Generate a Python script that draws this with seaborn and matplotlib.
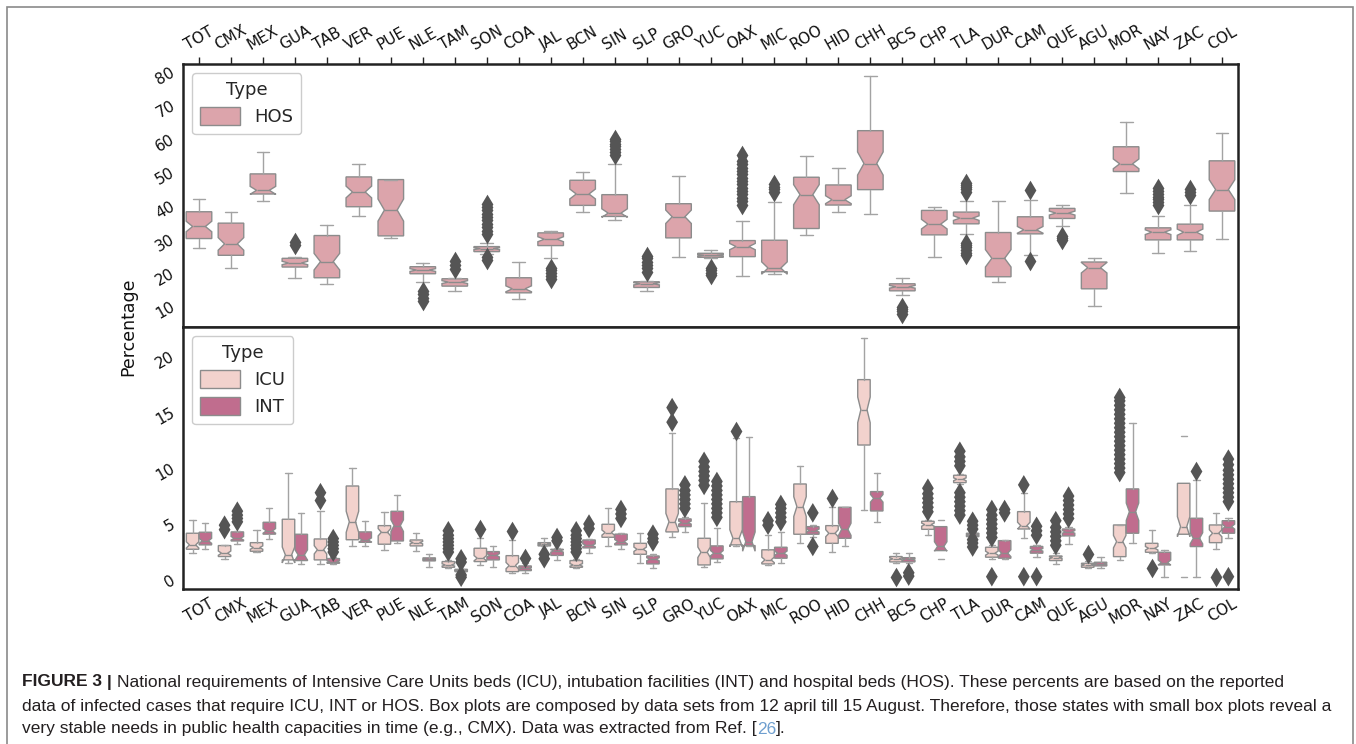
import numpy as np
import pandas as pd
import seaborn as sns
import matplotlib.pyplot as plt
from matplotlib import font_manager
from matplotlib.patches import Patch, Rectangle

states = ['TOT', 'CMX', 'MEX', 'GUA', 'TAB', 'VER', 'PUE', 'NLE', 'TAM', 'SON', 'COA',
          'JAL', 'BCN', 'SIN', 'SLP', 'GRO', 'YUC', 'OAX', 'MIC', 'ROO', 'HID', 'CHH',
          'BCS', 'CHP', 'TLA', 'DUR', 'CAM', 'QUE', 'AGU', 'MOR', 'NAY', 'ZAC', 'COL']

########## HOS (top panel) ##########
hos_lo = [27.0, 21.2, 41.1, 18.2, 16.2, 36.5, 30.1, 17.0, 14.3, 25.3, 11.8,
          24.0, 37.7, 35.5, 14.2, 24.5, 24.0, 18.7, 19.3, 31.0, 37.7, 37.2,
          13.0, 24.4, 31.2, 17.0, 25.0, 33.7, 9.7, 43.5, 25.5, 26.3, 29.9]
hos_q1 = [29.9, 24.9, 43.2, 21.4, 18.2, 39.4, 30.7, 19.4, 15.7, 26.0, 13.7,
          27.8, 39.8, 36.5, 15.3, 30.1, 24.3, 24.5, 20.0, 32.9, 39.9, 44.5,
          14.3, 31.0, 34.3, 18.5, 31.3, 35.9, 14.9, 49.9, 29.5, 29.5, 38.1]
hos_med = [33.5, 28.3, 44.3, 22.6, 23.0, 43.8, 38.4, 20.5, 16.9, 26.9, 14.9,
           29.7, 43.2, 37.5, 16.4, 36.4, 24.9, 27.5, 21.1, 43.0, 41.5, 52.3,
           15.5, 34.2, 36.0, 24.0, 32.5, 37.5, 21.2, 52.2, 31.8, 31.8, 44.5]
hos_q3 = [37.9, 34.5, 49.2, 24.0, 30.8, 48.3, 47.5, 21.5, 17.9, 27.5, 18.2,
          31.6, 47.3, 43.0, 17.0, 40.3, 25.5, 29.3, 29.4, 48.2, 45.9, 62.1,
          16.4, 38.3, 37.8, 31.7, 36.4, 38.9, 22.9, 57.3, 33.1, 34.2, 53.1]
hos_hi = [41.8, 37.8, 55.6, 24.3, 33.8, 52.3, 47.5, 22.5, 18.0, 28.5, 22.8,
          32.3, 49.8, 52.2, 17.2, 48.5, 26.5, 35.1, 40.8, 54.5, 51.0, 78.5,
          18.0, 39.2, 41.0, 41.0, 41.5, 39.8, 24.0, 64.8, 36.5, 39.8, 61.5]
hos_fliers = {
    'GUA': [28.0, 29.0],
    'NLE': [11.3, 12.3, 13.3, 14.2],
    'TAM': [20.9, 22.0, 23.2],
    'SON': [23.6, 24.4, 31.3, 32.3, 33.2, 34.3, 35.3, 36.2, 37.3, 38.3, 39.2, 40.2],
    'JAL': [17.9, 18.8, 19.6, 20.4, 21.2],
    'SIN': [54.9, 55.8, 56.6, 57.4, 58.2, 59.0, 59.7],
    'SLP': [20.0, 21.0, 22.0, 23.0, 24.0, 24.7],
    'YUC': [18.9, 19.6, 20.4, 21.2],
    'OAX': [39.9, 41.0, 42.0, 43.1, 44.0, 45.0, 46.1, 47.0, 48.0, 49.1, 50.0,
            51.0, 52.1, 53.0, 54.7],
    'MIC': [43.9, 44.6, 45.3, 46.1],
    'BCS': [7.4, 8.2, 9.0, 9.6],
    'TLA': [24.9, 25.7, 26.5, 27.3, 28.0, 28.6, 43.9, 44.6, 45.3, 46.0, 46.6],
    'CAM': [23.3, 44.3],
    'QUE': [29.4, 30.1, 30.8],
    'NAY': [39.9, 40.8, 41.6, 42.4, 43.3, 44.2, 45.1],
    'ZAC': [42.9, 43.7, 44.6],
}

########## ICU (bottom panel) ##########
icu_lo = [2.3, 1.76, 2.38, 1.4, 1.3, 2.9, 2.6, 2.53, 0.95, 1.25, 0.5,
          2.9, 0.95, 2.9, 1.4, 3.78, 1.1, 2.98, 1.25, 3.24, 2.38, 6.16,
          1.4, 3.93, 8.5, 1.76, 3.63, 1.31, 0.95, 1.7, 2.3, 0.15, 2.65]
icu_q1 = [2.65, 2.0, 2.47, 1.7, 1.7, 3.5, 3.1, 2.95, 1.04, 1.55, 0.65,
          2.95, 1.04, 3.72, 2.2, 4.2, 1.25, 3.04, 1.34, 3.99, 3.18, 11.96,
          1.52, 4.43, 8.6, 1.94, 4.46, 1.64, 1.04, 1.99, 2.38, 3.99, 3.24]
icu_med = [3.04, 2.3, 2.8, 2.14, 2.6, 5.1, 4.17, 3.24, 1.25, 1.85, 1.19,
           3.1, 1.25, 4.14, 2.65, 5.1, 2.38, 3.63, 1.7, 6.46, 4.08, 15.1,
           1.79, 4.85, 8.9, 2.3, 4.76, 1.9, 1.25, 3.33, 2.74, 4.67, 4.08]
icu_q3 = [4.08, 2.98, 3.24, 5.33, 3.57, 8.3, 4.76, 3.48, 1.55, 2.74, 2.08,
          3.24, 1.64, 4.88, 3.18, 8.04, 3.63, 6.9, 2.6, 8.48, 4.76, 17.8,
          2.0, 5.15, 9.26, 2.83, 6.01, 2.05, 1.4, 4.82, 3.18, 8.54, 4.82]
icu_hi = [5.27, 3.0, 4.37, 9.5, 6.1, 9.9, 6.0, 4.08, 1.7, 3.63, 3.48,
          3.63, 1.8, 6.37, 4.08, 13.0, 6.8, 12.56, 3.93, 10.1, 6.46, 21.5,
          2.35, 5.3, 9.4, 3.0, 7.65, 2.3, 1.64, 4.82, 4.38, 12.8, 5.92]
icu_fliers = {
    'CMX': [4.4, 4.8],
    'TAB': [7.0, 7.7],
    'TAM': [2.4, 2.7, 3.0, 3.3, 3.6, 3.9, 4.3],
    'SON': [4.5],
    'COA': [4.3],
    'JAL': [1.8, 2.2],
    'BCN': [2.4, 2.7, 3.0, 3.3, 3.6, 3.9, 4.3],
    'GRO': [14.0, 15.3],
    'YUC': [8.35, 8.8, 9.2, 9.6, 10.0, 10.5],
    'OAX': [13.2],
    'MIC': [4.8, 5.2],
    'HID': [7.2],
    'BCS': [0.2],
    'CHP': [6.0, 6.4, 6.8, 7.2, 7.6, 8.1],
    'TLA': [5.7, 6.1, 6.5, 6.9, 7.3, 7.7, 10.1, 10.5, 10.9, 11.4],
    'DUR': [0.2, 3.7, 4.1, 4.5, 4.9, 5.3, 5.7, 6.2],
    'CAM': [0.2, 8.4],
    'QUE': [3.0, 3.4, 3.8, 4.2, 4.6, 5.2],
    'AGU': [2.2],
    'MOR': [9.5, 9.9, 10.3, 10.7, 11.1, 11.5, 11.9, 12.3, 12.7, 13.1, 13.5,
            13.9, 14.3, 14.7, 15.1, 15.5, 15.9, 16.2],
    'NAY': [0.95],
    'COL': [0.2],
}

########## INT (bottom panel) ##########
int_lo = [2.7, 3.1, 3.54, 1.34, 1.34, 2.95, 3.2, 1.1, 0.6, 1.04, 0.5,
          1.7, 2.35, 2.7, 0.95, 4.2, 1.55, 2.9, 1.46, 3.78, 2.9, 5.1,
          1.46, 1.76, 3.7, 1.76, 1.94, 3.1, 0.95, 3.24, 0.15, 0.15, 3.63]
int_q1 = [3.04, 3.39, 4.0, 1.64, 1.4, 3.27, 3.39, 1.61, 0.65, 1.7, 0.74,
          2.1, 2.77, 3.04, 1.34, 4.67, 1.79, 2.98, 1.85, 3.99, 3.63, 6.07,
          1.52, 2.53, 3.78, 1.85, 2.3, 3.84, 1.16, 4.08, 1.25, 2.89, 4.08]
int_med = [3.4, 3.63, 4.29, 2.14, 1.55, 3.48, 4.76, 1.76, 0.74, 2.11, 0.95,
           2.5, 3.0, 3.33, 1.76, 5.03, 2.3, 3.33, 2.3, 4.32, 4.43, 7.2,
           1.76, 2.9, 3.93, 2.3, 2.6, 4.2, 1.34, 6.0, 1.46, 3.63, 4.67]
int_q3 = [4.17, 4.2, 5.06, 3.99, 1.82, 4.2, 6.04, 1.88, 0.86, 2.44, 1.16,
          2.65, 3.48, 4.0, 2.05, 5.36, 2.95, 7.35, 2.83, 4.67, 6.4, 7.8,
          1.9, 4.67, 4.08, 3.42, 2.9, 4.46, 1.49, 8.04, 2.38, 5.42, 5.2]
int_hi = [4.97, 4.3, 6.37, 5.86, 2.0, 5.18, 7.5, 2.2, 0.9, 2.9, 1.46,
          2.8, 3.6, 4.1, 2.2, 5.5, 4.52, 12.65, 4.23, 4.8, 6.46, 9.5,
          2.3, 5.27, 4.2, 3.5, 3.0, 4.6, 2.0, 13.9, 2.6, 8.8, 5.4]
int_fliers = {
    'CMX': [5.1, 5.4, 5.7, 6.05],
    'TAB': [2.4, 2.7, 3.0, 3.3, 3.6],
    'TAM': [0.15, 0.35, 1.5, 1.8],
    'COA': [1.85],
    'JAL': [3.4, 3.7],
    'BCN': [4.5, 4.9],
    'SIN': [5.4, 5.8, 6.2],
    'SLP': [3.3, 3.6, 4.0],
    'GRO': [6.3, 6.7, 7.1, 7.5, 7.9, 8.4],
    'YUC': [5.5, 5.9, 6.3, 6.7, 7.1, 7.5, 7.9, 8.3, 8.7],
    'MIC': [5.1, 5.5, 5.9, 6.3, 6.65],
    'ROO': [2.9, 5.9],
    'BCS': [0.25, 0.55],
    'TLA': [2.85, 3.2, 3.5, 4.45, 4.8, 5.15],
    'DUR': [5.9, 6.2],
    'CAM': [0.2, 3.9, 4.3, 4.7],
    'QUE': [5.4, 5.8, 6.2, 6.6, 7.0, 7.4],
    'ZAC': [9.6],
    'COL': [0.2, 6.9, 7.3, 7.7, 8.1, 8.5, 8.9, 9.3, 9.7, 10.2, 10.7],
}

# boxes whose whisker lines are not drawn in the figure (caps only)
icu_no_whisker = ['ZAC']
int_no_whisker = ['CHP']

N_OBS = 64   # samples per box, used only for the notch size

HOS_C = '#dca4ab'
ICU_C = '#f2d2cd'
INT_C = '#c06d8e'
EDGE = '#8c8c8c'
WHISK = '#a3a3a3'
FLIER = '#555555'

caption = [
    "National requirements of Intensive Care Units beds (ICU), intubation facilities (INT) and hospital beds (HOS). These percents are based on the reported",
    "data of infected cases that require ICU, INT or HOS. Box plots are composed by data sets from 12 april till 15 August. Therefore, those states with small box plots reveal a",
    "very stable needs in public health capacities in time (e.g., CMX). Data was extracted from Ref. [",
]


def make_stats(lo, q1, med, q3, hi):
    out = []
    for a, b, m, c, d in zip(lo, q1, med, q3, hi):
        half = 1.57 * (c - b) / np.sqrt(N_OBS)
        out.append(dict(whislo=a, q1=b, med=m, q3=c, whishi=d, fliers=[],
                        cilo=m - half, cihi=m + half))
    return out


def flier_frame(d, typ):
    rows = [(s, typ, v) for s, vals in d.items() for v in vals]
    return pd.DataFrame(rows, columns=['state', 'Type', 'value'])


def draw_boxes(ax, stats, pos, width, color, hide=()):
    art = ax.bxp(stats, positions=pos, widths=width, patch_artist=True, shownotches=True,
                 showfliers=False, manage_ticks=False,
                 boxprops=dict(facecolor=color, edgecolor=EDGE, linewidth=1.0),
                 medianprops=dict(color=EDGE, linewidth=1.0),
                 whiskerprops=dict(color=WHISK, linewidth=1.0),
                 capprops=dict(color=WHISK, linewidth=1.0))
    for st in hide:
        i = states.index(st)
        art['whiskers'][2 * i].set_visible(False)
        art['whiskers'][2 * i + 1].set_visible(False)


sns.set_style('white')
plt.rcParams['font.family'] = ['DejaVu Sans']
plt.rcParams['xtick.color'] = '#111111'
plt.rcParams['ytick.color'] = '#111111'

W, H = 1356, 744
fig = plt.figure(figsize=(W / 100, H / 100), dpi=100)
ax1 = fig.add_axes([183 / W, 1 - 327 / H, 1055 / W, 263 / H])
ax2 = fig.add_axes([183 / W, 1 - 589 / H, 1055 / W, 262 / H])

x = np.arange(len(states))

# top: HOS
hos_df = flier_frame(hos_fliers, 'HOS')
sns.stripplot(data=hos_df, x='state', y='value', order=states, jitter=False,
              color=FLIER, marker='d', size=10, linewidth=0, ax=ax1, zorder=3)
draw_boxes(ax1, make_stats(hos_lo, hos_q1, hos_med, hos_q3, hos_hi), x, 0.8, HOS_C)

# bottom: ICU + INT
bot_df = pd.concat([flier_frame(icu_fliers, 'ICU'), flier_frame(int_fliers, 'INT')])
sns.stripplot(data=bot_df, x='state', y='value', hue='Type', order=states,
              hue_order=['ICU', 'INT'], palette={'ICU': FLIER, 'INT': FLIER},
              dodge=True, jitter=False, marker='d', size=10, linewidth=0,
              legend=False, ax=ax2, zorder=3)
draw_boxes(ax2, make_stats(icu_lo, icu_q1, icu_med, icu_q3, icu_hi), x - 0.2, 0.39,
           ICU_C, icu_no_whisker)
draw_boxes(ax2, make_stats(int_lo, int_q1, int_med, int_q3, int_hi), x + 0.2, 0.39,
           INT_C, int_no_whisker)

for ax in (ax1, ax2):
    ax.set_xlim(-0.5, len(states) - 0.5)
    ax.set_xlabel('')
    ax.set_ylabel('')
    for s in ax.spines.values():
        s.set_color('#222222')
        s.set_linewidth(1.8)
    ax.tick_params(axis='y', length=0, labelsize=11, labelrotation=30, pad=4)

ax1.set_ylim(3.5, 82)
ax1.set_yticks([10, 20, 30, 40, 50, 60, 70, 80])
ax2.set_ylim(-0.9, 22.5)
ax2.set_yticks([0, 5, 10, 15, 20])

ax1.xaxis.tick_top()
ax1.set_xticks(x)
ax1.set_xticklabels(states)
ax1.tick_params(axis='x', top=True, bottom=False, labeltop=True, labelbottom=False,
                length=5, width=1, color='#222222', labelsize=11, labelrotation=30, pad=3)
ax2.set_xticks(x)
ax2.set_xticklabels(states)
ax2.tick_params(axis='x', length=0, labelsize=11, labelrotation=30, pad=5)

leg_kw = dict(title='Type', loc='upper left', fontsize=13, title_fontsize=13,
              handlelength=2.2, handleheight=1.1, borderpad=0.45, labelspacing=0.45,
              edgecolor='#cccccc', framealpha=1)
ax1.legend(handles=[Patch(facecolor=HOS_C, edgecolor=EDGE, label='HOS')], **leg_kw)
ax2.legend(handles=[Patch(facecolor=ICU_C, edgecolor=EDGE, label='ICU'),
                    Patch(facecolor=INT_C, edgecolor=EDGE, label='INT')], **leg_kw)

fig.text(128 / W, 1 - 327 / H, 'Percentage', rotation=90, ha='center', va='center',
         fontsize=12.5, color='#111111')

# outer frame
fig.add_artist(Rectangle((7 / W, -0.05), (1353 - 7) / W, 1.05 - 7 / H, fill=False,
                         edgecolor='#8a8a8a', linewidth=1.2, transform=fig.transFigure))

# caption
names = {f.name for f in font_manager.fontManager.ttflist}
cap_font = 'Liberation Sans Narrow' if 'Liberation Sans Narrow' in names else 'Liberation Sans'
r = fig.canvas.get_renderer()
probe = fig.text(0, 0, caption[1], family=cap_font, fontsize=11)
fs = 11 * (1322 - 22) / probe.get_window_extent(r).width
probe.remove()
cap_color = '#231f20'


def run(parts, y):
    xx = 22
    for s, kw in parts:
        t = fig.text(xx / W, 1 - y / H, s, ha='left', va='center', family=cap_font,
                     fontsize=fs, color=kw.get('color', cap_color),
                     weight=kw.get('weight', 'normal'))
        xx += t.get_window_extent(r).width


run([('FIGURE 3', {'weight': 'bold'}), (' | ', {'weight': 'bold'}), (caption[0], {})], 682)
run([(caption[1], {})], 706)
run([(caption[2], {}), ('26', {'color': '#6f9fcf'}), ('].', {})], 729)

fig.savefig('out.png', dpi=100)
